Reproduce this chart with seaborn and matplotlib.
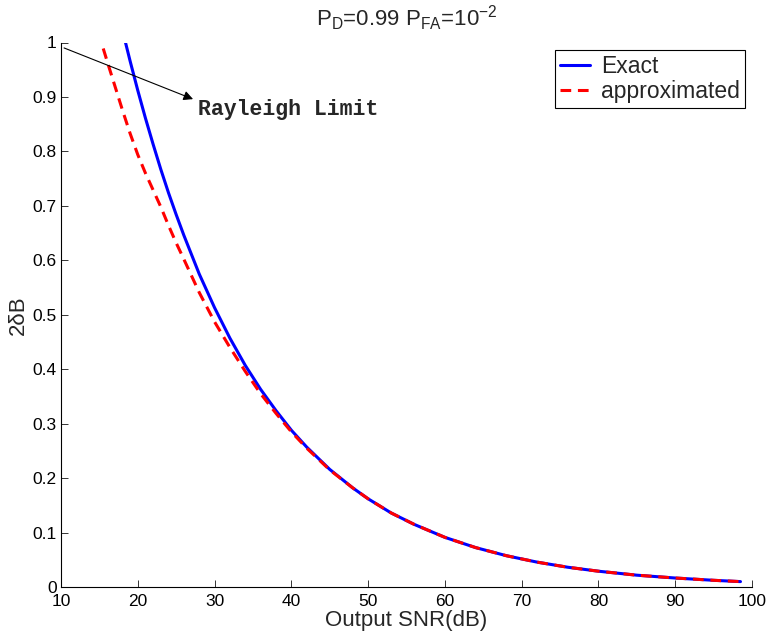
import matplotlib
matplotlib.use("Agg")
import matplotlib.pyplot as plt
import seaborn as sns
import pandas as pd

# Output SNR (dB) and resolution 2*delta*B for the exact expression
snr_exact = [18.4, 19, 20, 21, 22, 23, 24, 25, 26, 28, 30, 32, 34, 36, 38, 40,
             42, 45, 48, 50, 53, 56, 60, 64, 68, 72, 76, 80, 85, 90, 95, 98.5]
res_exact = [1.000, 0.966, 0.912, 0.861, 0.813, 0.767, 0.724, 0.684, 0.646,
             0.575, 0.513, 0.457, 0.407, 0.363, 0.324, 0.288, 0.257, 0.216,
             0.182, 0.162, 0.136, 0.115, 0.0912, 0.0724, 0.0575, 0.0457,
             0.0363, 0.0290, 0.0217, 0.0165, 0.0123, 0.0099]

# Same quantity from the approximation
snr_approx = [15.5, 16, 17, 18, 19, 20, 21, 22, 23, 24, 25, 26, 28, 30, 32, 34,
              36, 38, 40, 42, 45, 48, 50, 53, 56, 60, 64, 68, 72, 76, 80, 85,
              90, 95, 98.5]
res_approx = [0.989, 0.966, 0.921, 0.876, 0.833, 0.794, 0.760, 0.729, 0.698,
              0.664, 0.632, 0.602, 0.541, 0.487, 0.440, 0.396, 0.355, 0.319,
              0.285, 0.255, 0.215, 0.182, 0.162, 0.136, 0.115, 0.0912, 0.0724,
              0.0575, 0.0457, 0.0363, 0.0290, 0.0217, 0.0165, 0.0123, 0.0099]

x_ticks = [10, 20, 30, 40, 50, 60, 70, 80, 90, 100]
y_ticks = [0, 0.1, 0.2, 0.3, 0.4, 0.5, 0.6, 0.7, 0.8, 0.9, 1]
y_tick_labels = ["0", "0.1", "0.2", "0.3", "0.4", "0.5", "0.6", "0.7", "0.8", "0.9", "1"]

sns.set_style("ticks")
plt.rcParams["font.family"] = ["Liberation Sans", "DejaVu Sans"]
plt.rcParams["mathtext.fontset"] = "custom"
plt.rcParams["mathtext.rm"] = "Liberation Sans"
plt.rcParams["mathtext.it"] = "Liberation Sans"
plt.rcParams["mathtext.default"] = "regular"

df_exact = pd.DataFrame({"snr": snr_exact, "res": res_exact})
df_approx = pd.DataFrame({"snr": snr_approx, "res": res_approx})

fig = plt.figure(figsize=(7.67, 6.41), dpi=100)
ax = fig.add_axes([61 / 767, 1 - 587 / 641, 691 / 767, 544.5 / 641])

sns.lineplot(data=df_exact, x="snr", y="res", ax=ax, color=(0, 0, 1),
             linewidth=2.2, label="Exact", sort=False)
sns.lineplot(data=df_approx, x="snr", y="res", ax=ax, color=(1, 0, 0),
             linewidth=2.2, linestyle="--", label="approximated", sort=False)
ax.lines[-1].set_dashes((3.5, 2.2))

ax.set_xlim(10, 100)
ax.set_ylim(0, 1)
ax.set_xticks(x_ticks)
ax.set_xticklabels([str(v) for v in x_ticks])
ax.set_yticks(y_ticks)
ax.set_yticklabels(y_tick_labels)

for side in ("top", "right"):
    ax.spines[side].set_visible(False)
for side in ("left", "bottom"):
    ax.spines[side].set_linewidth(0.8)
    ax.spines[side].set_color("black")
ax.tick_params(axis="both", direction="in", length=5, width=0.7,
               color="#333333", labelsize=12.5, labelcolor="black")
ax.tick_params(axis="x", pad=5)
ax.tick_params(axis="y", pad=3)

ax.set_xlabel("Output SNR(dB)", fontsize=16, labelpad=1)
ax.set_ylabel("2δB", fontsize=16, labelpad=3)
ax.set_title(r"$P_D$=0.99 $P_{FA}$=$10^{-2}$", fontsize=16, pad=12)

# Arrow pointing from the top-left corner towards the label
ax.annotate("", xy=(27.2, 0.896), xytext=(10.4, 0.99), textcoords="data",
            arrowprops=dict(arrowstyle="-|>", color="black", lw=0.8,
                            mutation_scale=14, shrinkA=0, shrinkB=0))
ax.text(27.8, 0.867, "Rayleigh Limit", fontsize=15.5, fontweight="bold",
        family="Liberation Mono", ha="left", va="baseline")

leg = ax.legend(loc="upper right", bbox_to_anchor=(0.990, 0.986),
                borderaxespad=0, fontsize=16.5, frameon=True, fancybox=False,
                framealpha=1, edgecolor="black", handlelength=1.3,
                handletextpad=0.5, labelspacing=0.1, borderpad=0.22)
leg.get_frame().set_linewidth(0.8)

fig.savefig("out.png", dpi=100, facecolor="white")
